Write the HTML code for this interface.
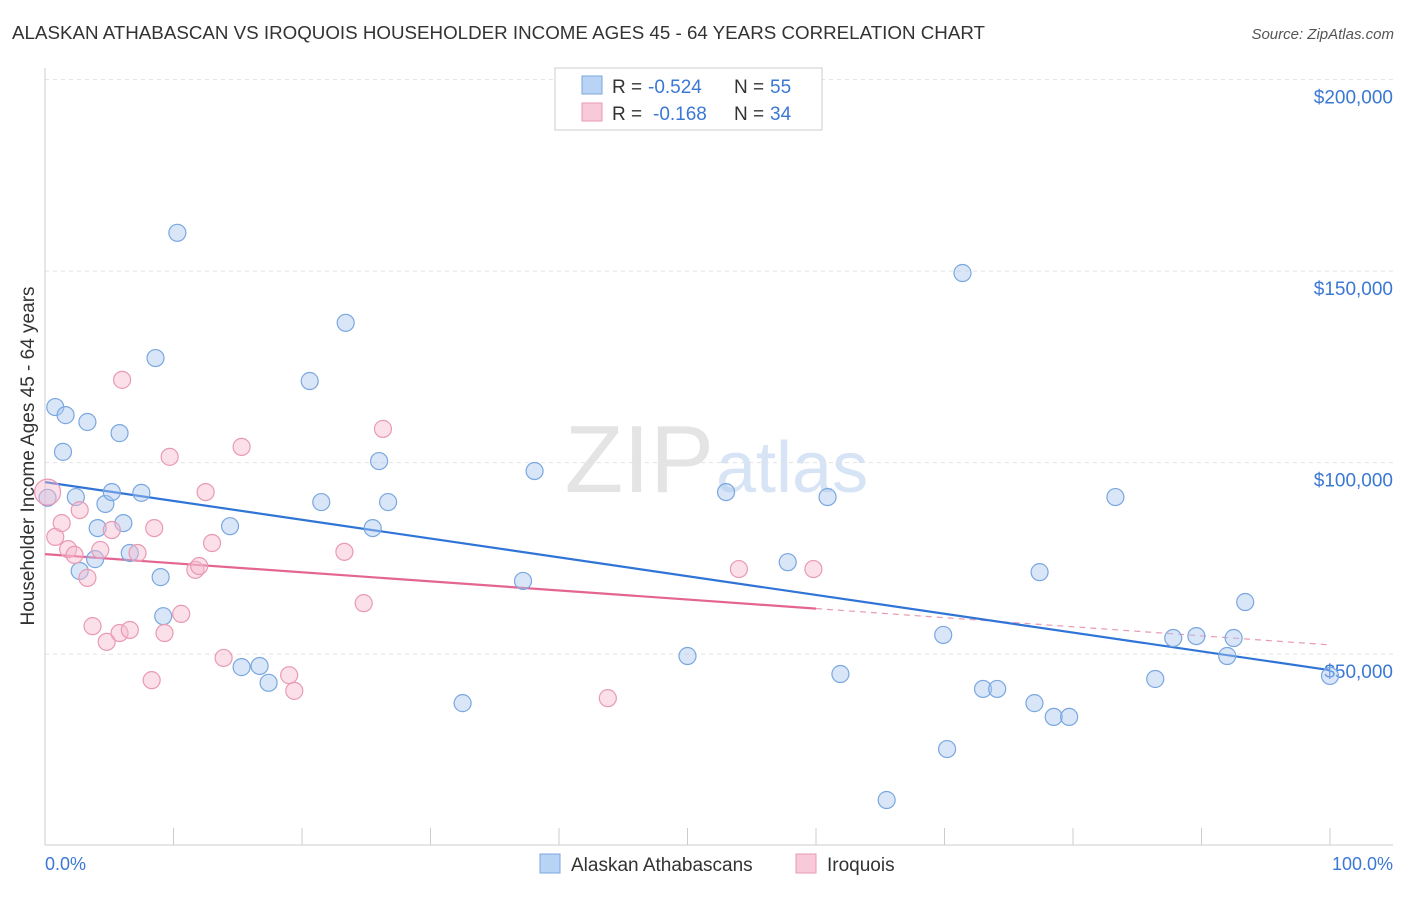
<!DOCTYPE html>
<html><head><meta charset="utf-8"><style>
body{margin:0;background:#fff;font-family:"Liberation Sans",sans-serif;}
svg text{font-family:"Liberation Sans",sans-serif;}
</style></head><body>
<svg width="1406" height="892" xmlns="http://www.w3.org/2000/svg">
<text x="12" y="39" font-size="18" fill="#333" textLength="973" lengthAdjust="spacingAndGlyphs">ALASKAN ATHABASCAN VS IROQUOIS HOUSEHOLDER INCOME AGES 45 - 64 YEARS CORRELATION CHART</text>
<text x="1394" y="39" font-size="15" fill="#555" text-anchor="end" font-style="italic">Source: ZipAtlas.com</text>
<text x="714" y="492" font-size="96" fill="#e4e4e4" text-anchor="end" font-family="Liberation Serif">ZIP</text>
<text x="716" y="492" font-size="72" fill="#d6e4f5">atlas</text>
<g id="grid"></g>
<line x1="45" y1="68" x2="45" y2="845" stroke="#ccc"/>
<line x1="45" y1="845" x2="1393" y2="845" stroke="#ccc"/>
<g id="xticks"></g>
<text x="34" y="456" font-size="19" fill="#333" text-anchor="middle" transform="rotate(-90 34 456)">Householder Income Ages 45 - 64 years</text>
<text x="45" y="870" font-size="18" fill="#3a78d4">0.0%</text>
<text x="1393" y="870" font-size="18" fill="#3a78d4" text-anchor="end">100.0%</text>
<g id="trend"></g>
<g id="points"></g>
<g>
<rect x="555" y="68" width="267" height="62" fill="#fff" stroke="#ccc"/>
<rect x="582" y="76" width="20" height="18" fill="#b9d3f5" stroke="#7aa7e0"/>
<text x="612" y="93" font-size="19" fill="#333">R =</text>
<text x="648" y="93" font-size="19" fill="#3a78d4">-0.524</text>
<text x="734" y="93" font-size="19" fill="#333">N =</text>
<text x="770" y="93" font-size="19" fill="#3a78d4">55</text>
<rect x="582" y="103" width="20" height="18" fill="#f8c9d8" stroke="#e99ab3"/>
<text x="612" y="120" font-size="19" fill="#333">R =</text>
<text x="653" y="120" font-size="19" fill="#3a78d4">-0.168</text>
<text x="734" y="120" font-size="19" fill="#333">N =</text>
<text x="770" y="120" font-size="19" fill="#3a78d4">34</text>
</g>
<g>
<rect x="540" y="854" width="20" height="19" fill="#b9d3f5" stroke="#7aa7e0"/>
<text x="571" y="871" font-size="19" fill="#333">Alaskan Athabascans</text>
<rect x="796" y="854" width="20" height="19" fill="#f8c9d8" stroke="#e99ab3"/>
<text x="827" y="871" font-size="19" fill="#333">Iroquois</text>
</g>
</svg>
<script>
const yTicks=[50,100,150,200];
const yTickLabels=["$50,000","$100,000","$150,000","$200,000"];
const xTicks=[0,10,20,30,40,50,60,70,80,90,100];
const blueX=[0.2,0.8,1.6,1.4,3.3,2.4,4.7,5.2,4.1,5.8,6.1,2.7,3.9,6.6,7.5,8.6,10.3,9.0,9.2,14.4,15.3,16.7,17.4,20.6,21.5,23.4,26.0,25.5,26.7,32.5,37.2,38.1,50.0,53.0,57.8,60.9,61.9,65.5,69.9,70.2,71.4,73.0,74.1,77.0,77.4,78.5,79.7,83.3,86.4,87.8,89.6,92.0,92.5,93.4,100];
const blueY=[90.8,114.5,112.4,102.8,110.6,91.0,89.2,92.3,82.9,107.7,84.2,71.7,74.8,76.4,92.1,127.3,160.0,70.1,59.9,83.4,46.6,46.9,42.5,121.3,89.7,136.5,100.4,82.9,89.7,37.2,69.1,97.8,49.5,92.3,74.0,91.0,44.8,11.9,55.0,25.2,149.5,40.9,40.9,37.2,71.4,33.6,33.6,91.0,43.5,54.2,54.7,49.5,54.2,63.6,44.3];
const pinkX=[0.2,0.8,1.3,1.8,2.3,2.7,3.3,3.7,4.3,4.8,5.2,6.0,5.8,6.6,7.2,8.3,8.5,9.3,9.7,10.6,11.7,12.0,12.5,13.0,13.9,15.3,19.0,19.4,23.3,24.8,26.3,43.8,54.0,59.8];
const pinkY=[92.3,80.6,84.2,77.4,75.9,87.6,69.9,57.3,77.2,53.2,82.4,121.6,55.5,56.3,76.4,43.2,82.9,55.5,101.5,60.5,72.0,73.0,92.3,79.0,49.0,104.1,44.5,40.4,76.7,63.3,108.8,38.5,72.2,72.2];
const blueTrend=[94.9,45.8];
const pinkTrend=[76.1,52.4];
const pinkSolidEnd=60;
const NS="http://www.w3.org/2000/svg";
const X=v=>45+v*12.85;
const Y=v=>845.6-v*3.83;
function mk(tag,attrs,parent){const e=document.createElementNS(NS,tag);for(const k in attrs)e.setAttribute(k,attrs[k]);document.getElementById(parent).appendChild(e);return e;}
yTicks.forEach((t,i)=>{
 const l=mk('line',{x1:45,x2:1393,y1:Y(t),y2:Y(t),stroke:'#e2e2e2','stroke-dasharray':'4 4'},'grid');
 
 
 const tx=mk('text',{x:1393,y:Y(t)+24,'font-size':19,fill:'#3a78d4','text-anchor':'end'},'grid');
 tx.textContent=yTickLabels[i];
 
 
});
xTicks.forEach(t=>{
 const l=mk('line',{x1:X(t),x2:X(t),y1:828,y2:845,stroke:'#ccc'},'xticks');
 
 
});
function trend(c,x0,x1,color,dash,name){
 const a={x1:X(x0),x2:X(x1),y1:Y(c[0]+(c[1]-c[0])*x0/100),y2:Y(c[0]+(c[1]-c[0])*x1/100),stroke:color,'stroke-width':dash?1.2:2.2};
 if(dash)a['stroke-dasharray']='6 5';
 const l=mk('line',a,'trend');
 
 
}
trend(pinkTrend,0,pinkSolidEnd,'#e46592',false,'iroquois-trend-line');
trend(pinkTrend,pinkSolidEnd,100,'#e99ab3',true,'iroquois-trend-extension');
trend(blueTrend,0,100,'#2f74d6',false,'athabascan-trend-line');
blueX.forEach((x,i)=>{
 const c=mk('circle',{cx:X(x),cy:Y(blueY[i]),r:8.5,fill:'rgba(170,200,240,0.45)',stroke:'#7aa7e0','stroke-width':1.2},'points');
 
 
});
pinkX.forEach((x,i)=>{
 const c=mk('circle',{cx:X(x),cy:Y(pinkY[i]),r:i===0?13:8.5,fill:'rgba(246,186,206,0.45)',stroke:'#e99ab3','stroke-width':1.2},'points');
 
 
});
</script>
</body></html>
